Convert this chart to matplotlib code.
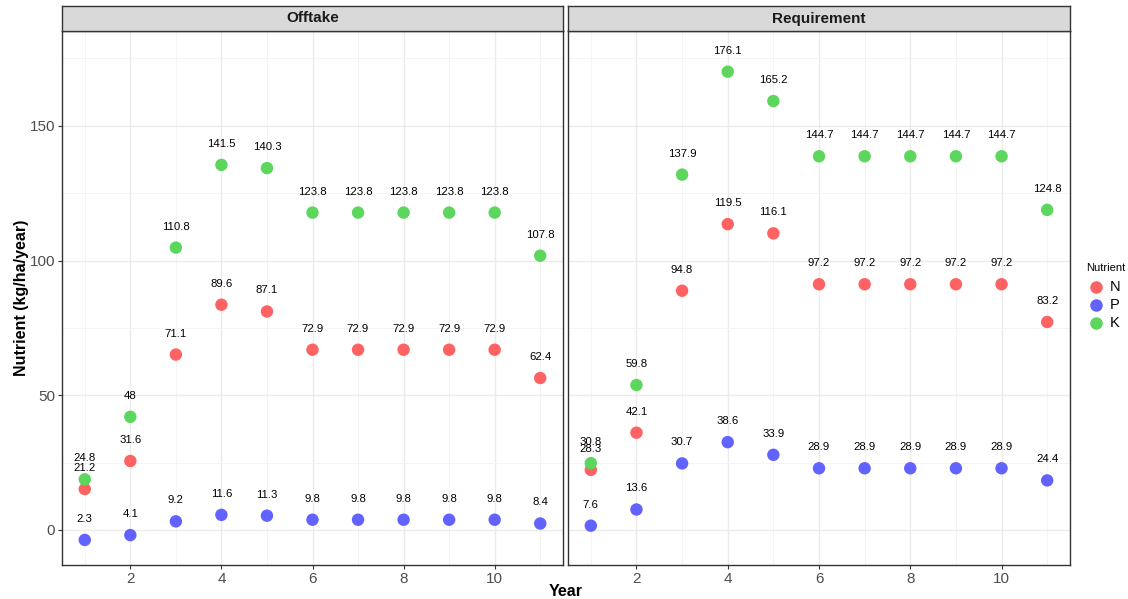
import matplotlib
matplotlib.use("Agg")
import matplotlib.pyplot as plt
import numpy as np

plt.rcParams['font.family'] = ['Liberation Sans', 'DejaVu Sans']

years = list(range(1, 12))
panels = ["Offtake", "Requirement"]
nutrients = ["N", "P", "K"]

offtake_N = [21.2, 31.6, 71.1, 89.6, 87.1, 72.9, 72.9, 72.9, 72.9, 72.9, 62.4]
offtake_P = [2.3, 4.1, 9.2, 11.6, 11.3, 9.8, 9.8, 9.8, 9.8, 9.8, 8.4]
offtake_K = [24.8, 48, 110.8, 141.5, 140.3, 123.8, 123.8, 123.8, 123.8, 123.8, 107.8]
req_N = [28.3, 42.1, 94.8, 119.5, 116.1, 97.2, 97.2, 97.2, 97.2, 97.2, 83.2]
req_P = [7.6, 13.6, 30.7, 38.6, 33.9, 28.9, 28.9, 28.9, 28.9, 28.9, 24.4]
req_K = [30.8, 59.8, 137.9, 176.1, 165.2, 144.7, 144.7, 144.7, 144.7, 144.7, 124.8]

data = {
    "Offtake": {"N": offtake_N, "P": offtake_P, "K": offtake_K},
    "Requirement": {"N": req_N, "P": req_P, "K": req_K},
}
colors = {"N": "#FF6262", "P": "#6262FF", "K": "#5CD65C"}

W, H = 1128, 599
fig = plt.figure(figsize=(W / 100, H / 100), dpi=100)

def frac(x0, y0, x1, y1):
    return [x0 / W, 1 - y1 / H, (x1 - x0) / W, (y1 - y0) / H]

panel_px = [(62, 31, 563, 565), (568, 31, 1070, 565)]
strip_h = 25
point_shift = 6.0

for name, (x0, y0, x1, y1) in zip(panels, panel_px):
    ax = fig.add_axes(frac(x0, y0, x1, y1))
    ax.set_xlim(0.5, 11.5)
    ax.set_ylim(-13, 185.2)
    ax.set_xticks([2, 4, 6, 8, 10])
    ax.set_xticks(range(1, 12, 2), minor=True)
    ax.set_yticks([0, 50, 100, 150])
    ax.set_yticks([25, 75, 125, 175], minor=True)
    ax.grid(True, which='major', color='#EBEBEB', lw=1.0)
    ax.grid(True, which='minor', color='#F3F3F3', lw=0.6)
    ax.set_axisbelow(True)
    for s in ax.spines.values():
        s.set_color('#333333')
        s.set_linewidth(1.0)
    ax.tick_params(which='major', length=3, color='#333333', labelsize=11,
                   labelcolor='#4D4D4D', pad=2)
    ax.tick_params(which='minor', length=0)
    if name != "Offtake":
        ax.set_yticklabels([])
        ax.tick_params(axis='y', which='major', length=0)
    for nut in nutrients:
        vals = np.array(data[name][nut])
        ax.scatter(years, vals - point_shift, s=80, color=colors[nut],
                   edgecolors='none', zorder=3)
        for x, v in zip(years, vals):
            ax.text(x, v + 1.8, f"{v:g}", ha='center', va='center',
                    fontsize=8.2, color='black', zorder=4)
    # strip
    sax = fig.add_axes(frac(x0, y0 - strip_h, x1, y0))
    sax.set_facecolor('#D9D9D9')
    sax.set_xticks([]); sax.set_yticks([])
    for s in sax.spines.values():
        s.set_color('#333333')
        s.set_linewidth(1.0)
    sax.text(0.5, 0.5, name, ha='center', va='center', fontsize=11,
             fontweight='bold', color='#1A1A1A', transform=sax.transAxes)

fig.text(566 / W, 1 - 592 / H, "Year", ha='center', va='center',
         fontsize=11.5, fontweight='bold')
fig.text(22 / W, 1 - 298 / H, "Nutrient (kg/ha/year)", ha='center', va='center',
         rotation=90, fontsize=11.5, fontweight='bold')

# legend
fig.text(1086 / W, 1 - 268 / H, "Nutrient", ha='left', va='center', fontsize=8)
for i, nut in enumerate(nutrients):
    yy = 1 - (287 + i * 18) / H
    fig.add_artist(plt.Line2D([1096 / W], [yy], marker='o', markersize=8,
                              color=colors[nut], linestyle='none',
                              transform=fig.transFigure))
    fig.text(1110 / W, yy, nut, ha='left', va='center', fontsize=10.5)

fig.savefig("out.png", dpi=100)
